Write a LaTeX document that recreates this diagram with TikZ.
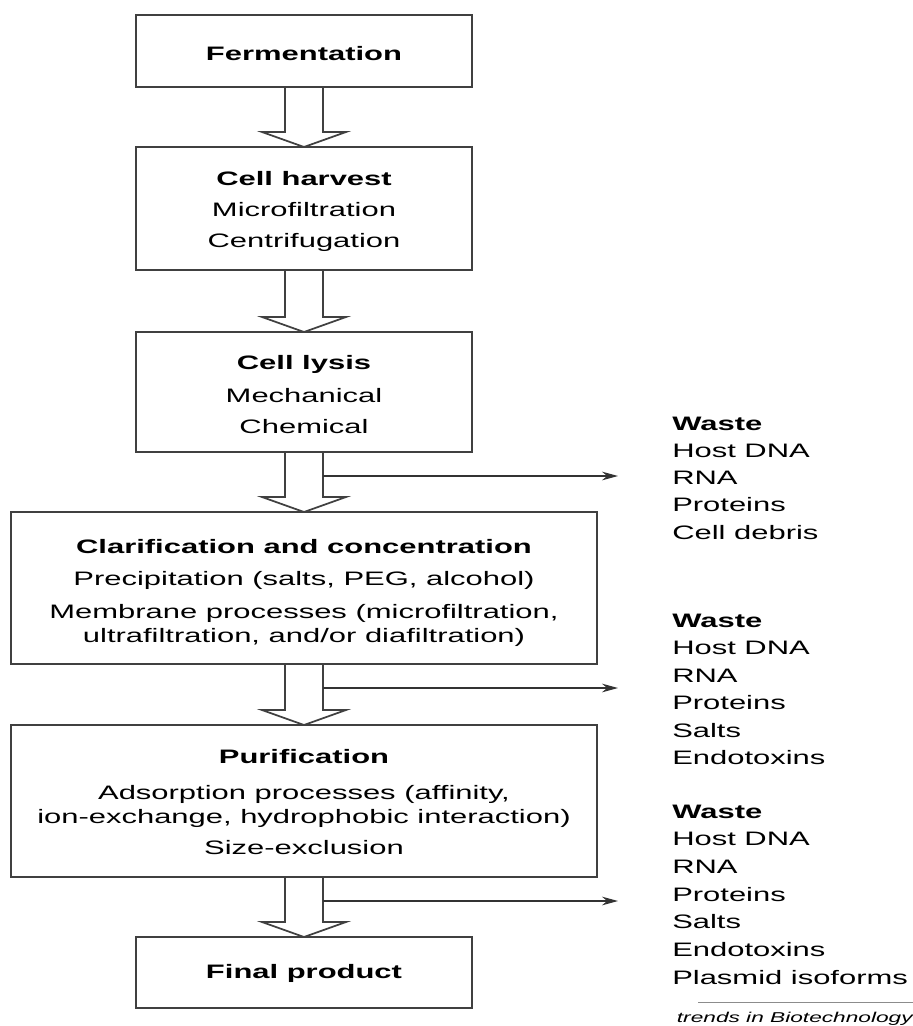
\documentclass[tikz,border=0pt]{standalone}
\usepackage{fontspec}
\setmainfont{Liberation Sans}[FakeStretch=1.59]
\usetikzlibrary{arrows.meta,calc}
\begin{document}
\begin{tikzpicture}[x=0.75pt,y=-0.75pt,
  box/.style={draw=black!75,line width=1.3pt,inner sep=0pt,outer sep=0pt,rectangle,minimum width=252pt},
  widebox/.style={box,minimum width=439.5pt},
  txt/.style={inner sep=0pt,anchor=base,font=\fontsize{14.6}{17}\selectfont},
  head/.style={txt,font=\fontsize{14.6}{17}\selectfont\bfseries},
  wtxt/.style={inner sep=0pt,anchor=base west,font=\fontsize{14.6}{17}\selectfont},
  whead/.style={wtxt,font=\fontsize{14.6}{17}\selectfont\bfseries},
  hollowline/.style={draw=black!75,line width=1.3pt,line join=miter},
  wastearrow/.style={draw=black!80,line width=1pt,-{Stealth[length=12pt,width=6.5pt]}}]
\useasboundingbox (0,0) rectangle (913,1026);

% boxes
\node[box,minimum height=54pt] (ferm) at (304,51) {};
\node[box,minimum height=92.25pt] (harv) at (304,208.5) {};
\node[box,minimum height=90pt] (lysis) at (304,392) {};
\node[widebox,minimum height=114pt] (clar) at (304,588) {};
\node[widebox,minimum height=114pt] (purif) at (304,801) {};
\node[box,minimum height=53.25pt] (final) at (304,972.5) {};

% box texts
\node[head] (fermT) at (304,60) {Fermentation};
\node[head] (harvT) at (304,185) {Cell harvest};
\node[txt] (harvA) at (304,216) {Microfiltration};
\node[txt] (harvB) at (304,247) {Centrifugation};
\node[head] (lysT) at (304,369) {Cell lysis};
\node[txt] (lysA) at (304,402) {Mechanical};
\node[txt] (lysB) at (304,433) {Chemical};
\node[head] (clarT) at (304,553) {Clarification and concentration};
\node[txt] (clarA) at (304,585) {Precipitation (salts, PEG, alcohol)};
\node[txt] (clarB) at (304,618) {Membrane processes (microfiltration,};
\node[txt] (clarC) at (304,642) {ultrafiltration, and/or diafiltration)};
\node[head] (purT) at (304,763) {Purification};
\node[txt] (purA) at (304,799) {Adsorption processes (affinity,};
\node[txt] (purB) at (304,823) {ion-exchange, hydrophobic interaction)};
\node[txt] (purC) at (304,854) {Size-exclusion};
\node[head] (finT) at (304,978) {Final product};

% hollow arrows
\newcommand\hollowarrow[2]{%
  \draw[hollowline] ($(#1.south)+(-19,0)$) -- ($(#2.north)+(-19,-15)$) -- ($(#2.north)+(-42,-15)$)
    -- (#2.north) -- ($(#2.north)+(42,-15)$) -- ($(#2.north)+(19,-15)$) -- ($(#1.south)+(19,0)$);}
\hollowarrow{ferm}{harv}
\hollowarrow{harv}{lysis}
\hollowarrow{lysis}{clar}
\hollowarrow{clar}{purif}
\hollowarrow{purif}{final}

% waste arrows
\coordinate (e1) at (618,476);
\coordinate (e2) at (618,688);
\coordinate (e3) at (618,901);
\draw[wastearrow] ($(lysis.south)+(19,24)$) -- (e1);
\draw[wastearrow] ($(clar.south)+(19,24)$) -- (e2);
\draw[wastearrow] ($(purif.south)+(19,24)$) -- (e3);

% waste lists
\node[whead] (w1h) at (672,430) {Waste};
\foreach \t [count=\i] in {Host DNA,RNA,Proteins,Cell debris}
  \node[wtxt] (w1-\i) at (672,430+27.3*\i) {\t};
\node[whead] (w2h) at (672,627) {Waste};
\foreach \t [count=\i] in {Host DNA,RNA,Proteins,Salts,Endotoxins}
  \node[wtxt] (w2-\i) at (672,627+27.5*\i) {\t};
\node[whead] (w3h) at (672,818) {Waste};
\foreach \t [count=\i] in {Host DNA,RNA,Proteins,Salts,Endotoxins,Plasmid isoforms}
  \node[wtxt] (w3-\i) at (672,818+27.7*\i) {\t};

% credit
\draw[draw=black!45,line width=0.5pt] (698,1002) coordinate (r1) -- (913,1002) coordinate (r2);
\node[inner sep=0pt,anchor=base east,font=\fontsize{10.7}{12}\selectfont\itshape] (credit) at (913,1022) {trends in Biotechnology};
\end{tikzpicture}
\end{document}
